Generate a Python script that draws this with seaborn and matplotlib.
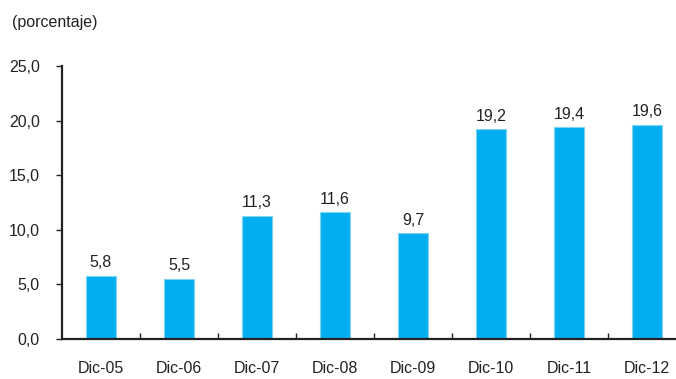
import matplotlib
matplotlib.use("Agg")
import matplotlib.pyplot as plt
import seaborn as sns
import pandas as pd
from matplotlib.ticker import FixedLocator

categories = ["Dic-05", "Dic-06", "Dic-07", "Dic-08", "Dic-09", "Dic-10", "Dic-11", "Dic-12"]
values = [5.8, 5.5, 11.3, 11.6, 9.7, 19.2, 19.4, 19.6]
yticks = [0, 5, 10, 15, 20, 25]

sns.set_theme(style="white")
plt.rcParams['font.family'] = ['Liberation Sans', 'DejaVu Sans']

df = pd.DataFrame({"cat": categories, "val": values})

fig = plt.figure(figsize=(6.76, 3.79), dpi=100)
ax = fig.add_axes([62/676, 40/379, 624/676, 273/379])

color = "#00AEEF"
sns.barplot(data=df, x="cat", y="val", ax=ax, color=color, width=0.39,
            edgecolor="#7fd3f5", linewidth=0.8, saturation=1)

fs = 11.5
ax.set_xlim(-0.5, len(categories) - 0.5)
ax.set_ylim(0, 25)
ax.set_yticks(yticks)
ax.set_yticklabels([f"{t:.1f}".replace(".", ",") for t in yticks], fontsize=fs)
ax.set_xlabel("")
ax.set_ylabel("")
ax.tick_params(axis="x", which="major", length=0, pad=16, labelsize=fs, colors="#222222")
ax.tick_params(axis="y", which="major", direction="out", length=4, width=1, left=True, pad=12, colors="#222222")
ax.xaxis.set_minor_locator(FixedLocator([i + 0.5 for i in range(len(categories) - 1)]))
ax.tick_params(axis="x", which="minor", direction="in", length=4, width=1, bottom=True, color="#222222")

for s in ["top", "right"]:
    ax.spines[s].set_visible(False)
for s in ["left", "bottom"]:
    ax.spines[s].set_color("#222222")
    ax.spines[s].set_linewidth(1.6)

for i, v in enumerate(values):
    ax.annotate(f"{v:.1f}".replace(".", ","), (i, v), xytext=(0, 4), textcoords="offset points",
                ha="center", va="bottom", fontsize=fs, color="#222222")

fig.text(12/676, 1 - 22/379, "(porcentaje)", ha="left", va="center", fontsize=fs, color="#222222")

fig.savefig("out.png", dpi=100)
